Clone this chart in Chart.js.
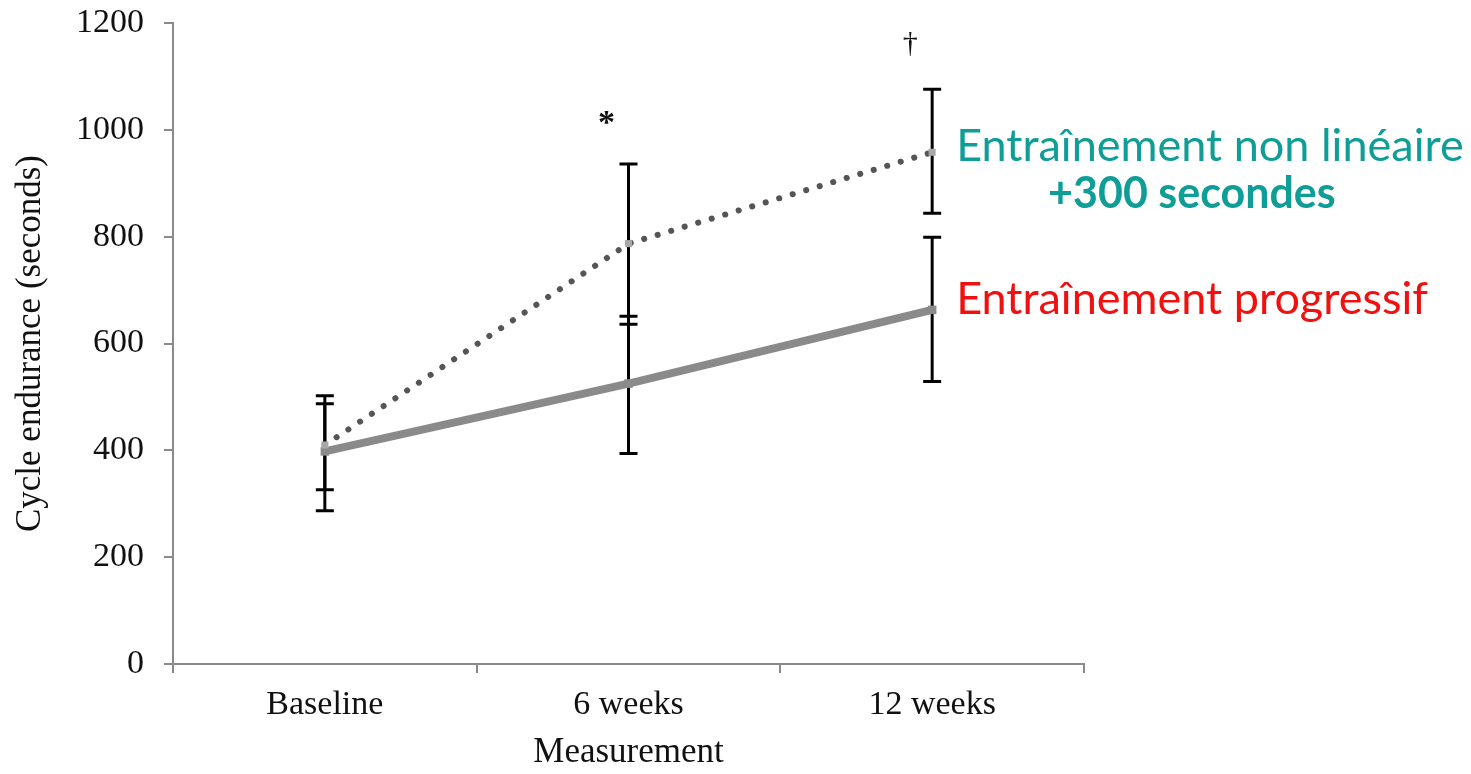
<!DOCTYPE html>
<html>
<head>
<meta charset="utf-8">
<script src="https://cdn.jsdelivr.net/npm/chart.js@4.4.1/dist/chart.umd.min.js"></script>
<style>
  html, body { margin: 0; padding: 0; background: #ffffff; }
  #wrap { width: 1471px; height: 774px; position: relative; }
</style>
</head>
<body>
<div id="wrap"><canvas id="c"></canvas></div>
<script>
// ---- data ----
const categories = ['Baseline', '6 weeks', '12 weeks'];
const progressive = [398, 525, 663];
const progressiveLow = [287, 394, 529];
const progressiveHigh = [502, 651, 799];
const nonlinear = [410, 787, 958];
const nonlinearLow = [326, 636, 844];
const nonlinearHigh = [487, 936, 1076];
const yTicks = [0, 200, 400, 600, 800, 1000, 1200];
const markSymbols = ['', '*', '\u2020'];
const markValues = [null, 1010, 1160];
const labelNonlinear = 'Entra\u00eenement non lin\u00e9aire';
const labelNonlinearGain = '+300 secondes';
const labelProgressive = 'Entra\u00eenement progressif';

const serif = '"Liberation Serif", "Times New Roman", serif';
const sans = 'Lato, "Open Sans", sans-serif';

const errorBars = {
  id: 'errorBars',
  beforeDatasetsDraw(chart) {
    const { ctx, scales: { x, y } } = chart;
    ctx.save();
    ctx.strokeStyle = '#000000';
    ctx.lineWidth = 3;
    const cap = 9;
    const sets = [[progressiveLow, progressiveHigh], [nonlinearLow, nonlinearHigh]];
    sets.forEach(([lo, hi]) => {
      lo.forEach((v, i) => {
        const px = x.getPixelForValue(i);
        const yl = y.getPixelForValue(v);
        const yh = y.getPixelForValue(hi[i]);
        ctx.beginPath();
        ctx.moveTo(px, yl); ctx.lineTo(px, yh);
        ctx.moveTo(px - cap, yl); ctx.lineTo(px + cap, yl);
        ctx.moveTo(px - cap, yh); ctx.lineTo(px + cap, yh);
        ctx.stroke();
      });
    });
    ctx.restore();
  },
  afterDatasetsDraw(chart) {
    const { ctx, scales: { x, y } } = chart;
    ctx.save();
    ctx.textAlign = 'center';
    ctx.textBaseline = 'middle';
    ctx.fillStyle = '#111111';
    markSymbols.forEach((s, i) => {
      if (!s || markValues[i] == null) return;
      ctx.font = (s === '*' ? 'bold 34px ' : '30px ') + serif;
      ctx.fillText(s, x.getPixelForValue(i) - 22, y.getPixelForValue(markValues[i]));
    });
    const last = categories.length - 1;
    const lx = x.getPixelForValue(last) + 24;
    ctx.textAlign = 'left';
    ctx.fillStyle = '#0e9e97';
    ctx.font = '45px ' + sans;
    const w1 = ctx.measureText(labelNonlinear).width;
    ctx.fillText(labelNonlinear, lx, y.getPixelForValue(nonlinear[last]) - 6);
    ctx.font = 'bold 43px ' + sans;
    ctx.textAlign = 'center';
    ctx.fillText(labelNonlinearGain, lx + w1 / 2 - 18, y.getPixelForValue(nonlinear[last]) + 42);
    ctx.textAlign = 'left';
    ctx.fillStyle = '#f01010';
    ctx.font = '45px ' + sans;
    ctx.fillText(labelProgressive, lx, y.getPixelForValue(progressive[last]) - 10);
    ctx.restore();
  }
};

new Chart(document.getElementById('c'), {
  type: 'line',
  data: {
    labels: categories,
    datasets: [
      {
        label: 'Progressive',
        data: progressive,
        borderColor: '#8a8a8a',
        borderWidth: 8,
        pointStyle: 'rect',
        pointRadius: 6,
        pointBackgroundColor: '#8a8a8a',
        pointBorderWidth: 0,
        tension: 0,
        order: 2
      },
      {
        label: 'Non-linear',
        data: nonlinear,
        borderColor: '#555555',
        borderWidth: 6,
        borderDash: [0.1, 14],
        borderCapStyle: 'round',
        pointStyle: 'rect',
        pointRadius: 5,
        pointBackgroundColor: '#a8a8a8',
        pointBorderWidth: 0,
        tension: 0,
        order: 1
      }
    ]
  },
  options: {
    responsive: true,
    maintainAspectRatio: false,
    animation: false,
    events: [],
    layout: { padding: { left: 10, right: 387, top: 23, bottom: 0 } },
    plugins: { legend: { display: false }, tooltip: { enabled: false } },
    scales: {
      x: {
        type: 'category',
        offset: true,
        border: { display: true, color: '#8a8a8a', width: 2 },
        grid: { drawOnChartArea: false, drawTicks: true, tickLength: 9, offset: true, color: '#8a8a8a', lineWidth: 2 },
        ticks: { color: '#111111', font: { family: serif, size: 34 }, padding: 12 },
        title: { display: true, text: 'Measurement', color: '#111111', font: { family: serif, size: 35 }, padding: { top: 0, bottom: 0 } },
        afterFit(scale) { scale.height = 110; scale.paddingLeft = 0; scale.paddingRight = 0; }
      },
      y: {
        min: 0,
        max: 1200,
        afterBuildTicks(scale) { scale.ticks = yTicks.map(v => ({ value: v })); },
        border: { display: true, color: '#8a8a8a', width: 2 },
        grid: { drawOnChartArea: false, drawTicks: true, tickLength: 9, color: '#8a8a8a', lineWidth: 2 },
        ticks: { color: '#111111', font: { family: serif, size: 34 }, padding: 20, callback: (v) => String(v) },
        title: { display: true, text: 'Cycle endurance (seconds)', color: '#111111', font: { family: serif, size: 35 }, padding: { top: 0, bottom: 0 } },
        afterFit(scale) { scale.width = 163; scale.paddingTop = 0; scale.paddingBottom = 0; }
      }
    }
  },
  plugins: [errorBars]
});
</script>
</body>
</html>
